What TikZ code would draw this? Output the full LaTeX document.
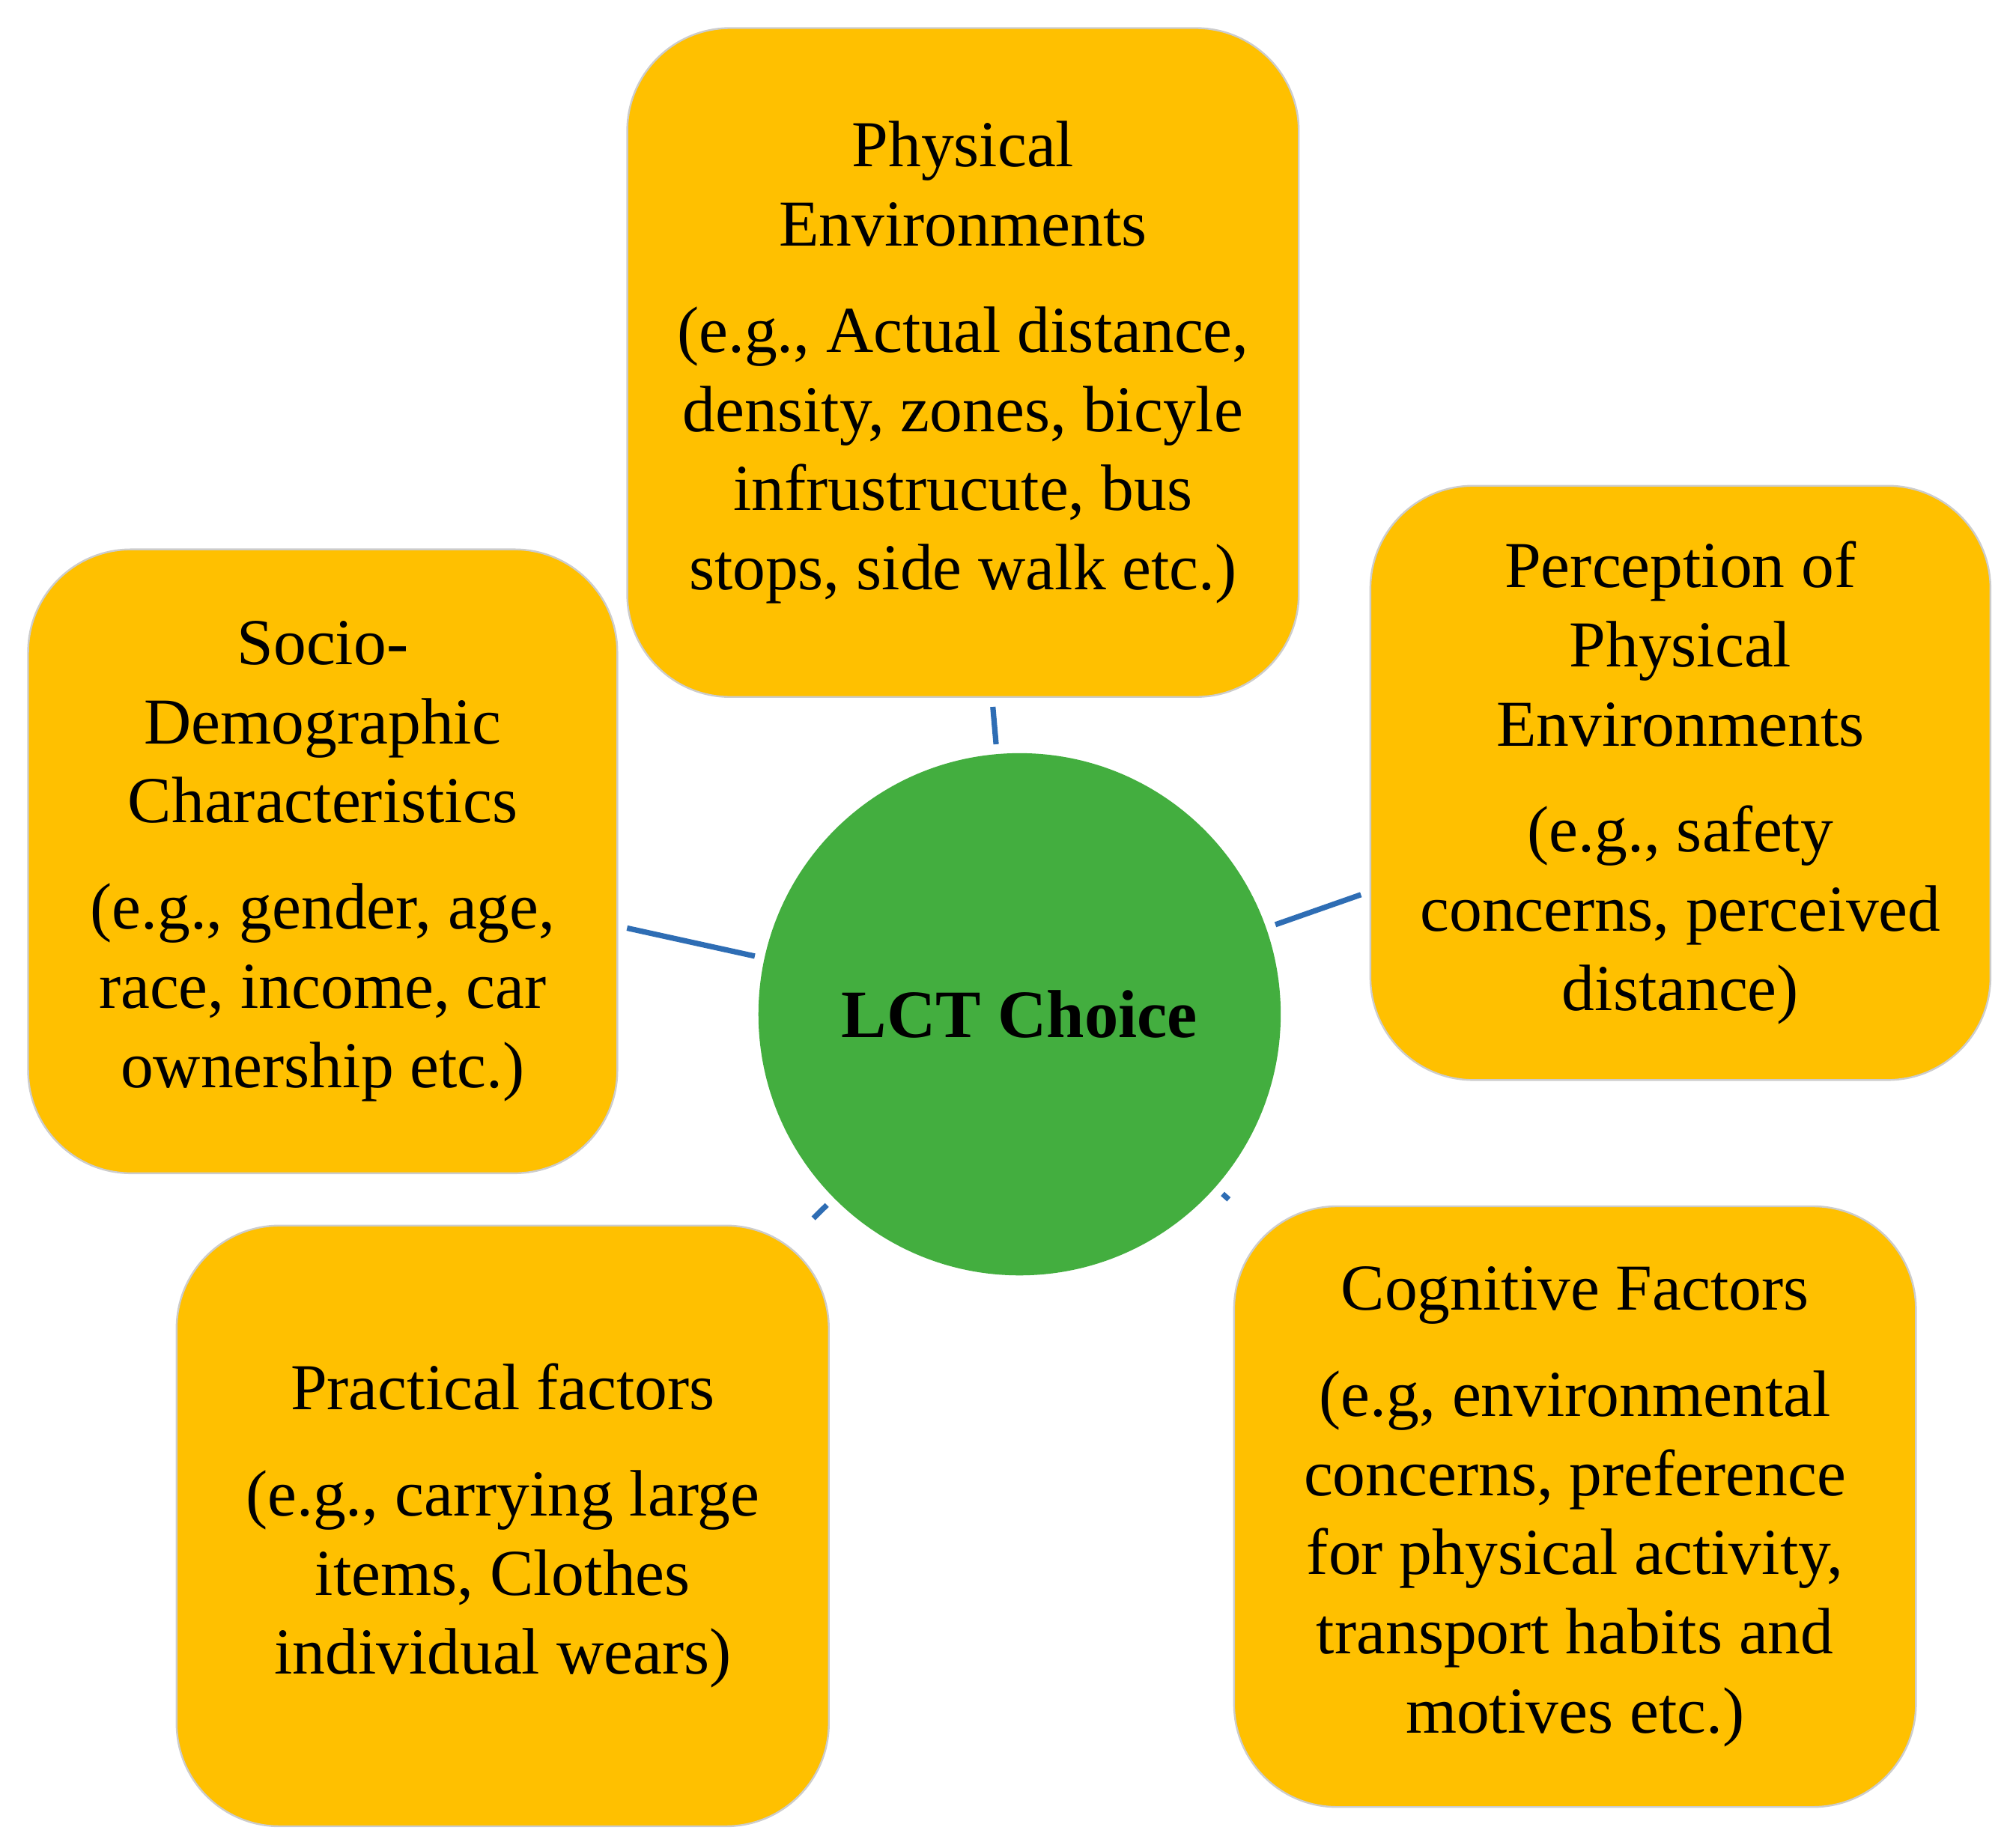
\documentclass[tikz,border=0pt]{standalone}
\usepackage{fontspec}
\setmainfont{Liberation Serif}
\usetikzlibrary{positioning}
\definecolor{boxfill}{HTML}{FFC000}
\definecolor{circfill}{HTML}{43AE3F}
\definecolor{linkcol}{HTML}{2E6DB4}
\begin{document}
\begin{tikzpicture}[x=0.01cm, y=-0.01cm,
    factor/.style = {draw=gray!40, fill=boxfill, rounded corners=0.8cm, align=center, font=\fontsize{14.5}{17.5}\selectfont, inner sep=0pt},
    choice/.style = {draw=none, fill=circfill, circle, minimum size=4.06cm, font=\fontsize{15}{18}\selectfont\bfseries},
    link/.style = {draw=linkcol, line width=1.2pt, shorten <=2pt, shorten >=2pt}]
        \useasboundingbox (0,0) rectangle (1568,1437);

            \node[choice] (c) at (793,789) {LCT Choice};

            \node[factor, minimum width=5.22cm, minimum height=5.2cm] (phy) at (749,282) {Physical\\Environments\\[6pt](e.g., Actual distance,\\density, zones, bicyle\\infrustrucute, bus\\stops, side walk etc.)};
            \node[factor, minimum width=4.82cm, minimum height=4.62cm] (per) at (1307,609) {Perception of\\Physical\\Environments\\[6pt](e.g., safety\\concerns, perceived\\distance)};
            \node[factor, minimum width=4.58cm, minimum height=4.85cm] (soc) at (251,670) {Socio-\\Demographic\\Characteristics\\[6pt](e.g., gender, age,\\race, income, car\\ownership etc.)};
            \node[factor, minimum width=5.07cm, minimum height=4.67cm] (pra) at (391,1187) {Practical factors\\[6pt](e.g., carrying large\\items, Clothes\\individual wears)};
            \node[factor, minimum width=5.3cm, minimum height=4.67cm] (cog) at (1225,1172) {Cognitive Factors\\[6pt](e.g, environmental\\concerns, preference\\for physical activity,\\transport habits and\\motives etc.)};

            \draw[link] (c) -- (phy);
            \draw[link] (c) -- (per);
            \draw[link] (c) -- (soc);
            \draw[link] (c) -- (pra);
            \draw[link] (c) -- (cog);

\end{tikzpicture}
\end{document}
